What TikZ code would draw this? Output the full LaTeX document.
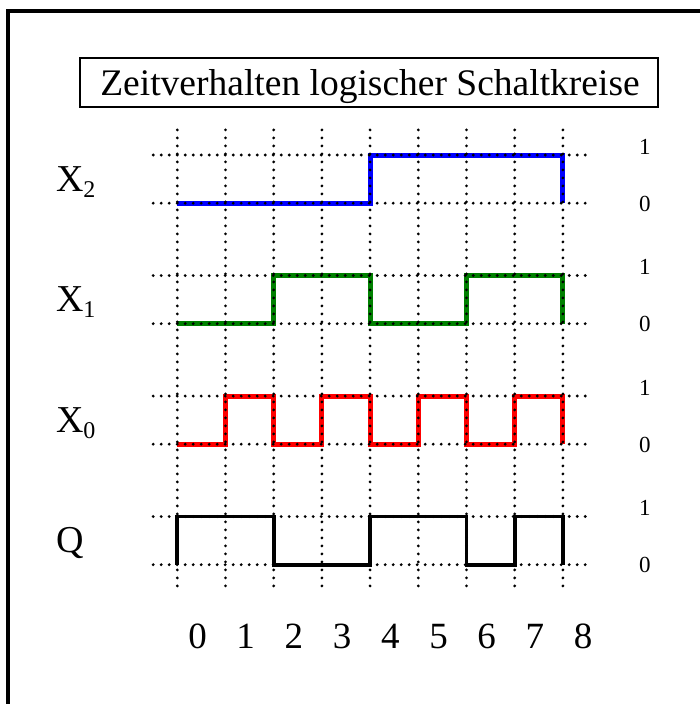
\documentclass[tikz,border=0pt]{standalone}
\usepackage{fontspec}
\setmainfont{Liberation Serif}
\begin{document}
\begin{tikzpicture}[x=1pt,y=-1pt,
  gridline/.style={line width=3.1pt, line cap=round, dash pattern=on 0pt off 8pt},
  sig/.style={line width=5pt, line join=miter, line cap=butt},
  rowlbl/.style={font=\fontsize{38}{40}\selectfont, inner sep=0pt, anchor=base west},
  lvl/.style={font=\fontsize{23}{25}\selectfont, inner sep=0pt, anchor=base},
  ticklbl/.style={font=\fontsize{37}{40}\selectfont, inner sep=0pt, anchor=base}]
\useasboundingbox (0,0) rectangle (700,704);
\draw[line width=4pt] (8,712) -- (8,10.5) -- (712,10.5);
\node[draw, line width=2pt, minimum width=578pt, minimum height=49pt, inner sep=0pt] (titlebox) at (369,82.5) {};
\node[font=\fontsize{37.5}{40}\selectfont, inner sep=0pt, anchor=base] (title) at (370,95) {Zeitverhalten logischer Schaltkreise};
\begin{scope}[shift={(177.3,155)}, x=48.2pt, y=48.2pt]
  % signals
  \draw[sig, blue] (0,-1) -- (4,-1) -- (4,0) -- (8,0) -- (8,-1);
  \draw[sig, green!50!black] (0,-3.5) -- (2,-3.5) -- (2,-2.5) -- (4,-2.5) -- (4,-3.5) -- (6,-3.5) -- (6,-2.5) -- (8,-2.5) -- (8,-3.5);
  \draw[sig, red] (0,-6) -- (1,-6) -- (1,-5) -- (2,-5) -- (2,-6) -- (3,-6) -- (3,-5) -- (4,-5) -- (4,-6) -- (5,-6) -- (5,-5) -- (6,-5) -- (6,-6) -- (7,-6) -- (7,-5) -- (8,-5) -- (8,-6);
  \draw[sig, black, line width=3.8pt] (0,-8.5) -- (0,-7.5) -- (2,-7.5) -- (2,-8.5) -- (4,-8.5) -- (4,-7.5) -- (6,-7.5) -- (6,-8.5) -- (7,-8.5) -- (7,-7.5) -- (8,-7.5) -- (8,-8.5);
  % grid
  \foreach \i in {0,...,8} \draw[gridline] (\i,0.52) -- (\i,-8.98);
  \foreach \k in {0,...,3} {
    \draw[gridline] (-0.5,-2.5*\k) -- (8.5,-2.5*\k);
    \draw[gridline] (-0.5,-2.5*\k-1) -- (8.5,-2.5*\k-1);
    \node[lvl] (one\k) at (9.7,-2.5*\k+0.02) {1};
    \node[lvl] (zero\k) at (9.7,-2.5*\k-1.17) {0};
  }
  % row labels
  \node[rowlbl] (x2) at (-2.52,-0.747) {X\raisebox{-6pt}{\fontsize{24}{24}\selectfont 2}};
  \node[rowlbl] (x1) at (-2.52,-3.247) {X\raisebox{-6pt}{\fontsize{24}{24}\selectfont 1}};
  \node[rowlbl] (x0) at (-2.52,-5.747) {X\raisebox{-6pt}{\fontsize{24}{24}\selectfont 0}};
  \node[rowlbl] (q) at (-2.52,-8.247) {Q};
  % time labels
  \foreach \i in {0,...,8} \node[ticklbl] (t\i) at (\i+0.42,-10.23) {\i};
\end{scope}
\end{tikzpicture}
\end{document}
